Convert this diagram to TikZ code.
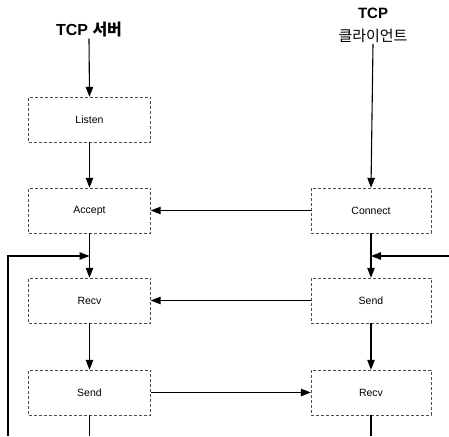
\documentclass[tikz,border=0pt]{standalone}
\usepackage{fontspec}
\setmainfont{Liberation Sans}
\newfontfamily\krfont{Noto Sans CJK KR}
\usetikzlibrary{arrows.meta}
\begin{document}
\begin{tikzpicture}[x=1pt,y=-1pt,
  box/.style={draw=black!70,densely dashed,line width=0.4pt,minimum width=122pt,minimum height=45pt,inner sep=0pt,font=\fontsize{10.5}{12}\selectfont},
  conn/.style={line width=1.1pt,-{Triangle[length=10pt,width=7.5pt]}},
  plain/.style={line width=1.1pt},
  ttl/.style={align=center,inner sep=1pt}]
\useasboundingbox (0,0) rectangle (449,436);
% titles
\node[ttl] (st) at (89,30) {\fontsize{16}{18}\selectfont\textbf{TCP} {\krfont\bfseries 서버}};
\node[ttl] (ctop) at (373,13) {\fontsize{15}{18}\selectfont\textbf{TCP}};
\node[ttl] (ct) at (373,36) {\fontsize{15}{18}\selectfont\krfont 클라이언트};
% server boxes
\node[box] (listen) at (89.5,119.5) {Listen};
\node[box] (accept) at (89.5,210.5) {Accept};
\node[box] (srecv) at (89.5,300.5) {Recv};
\node[box] (ssend) at (89.5,392.5) {Send};
% client boxes
\node[box,minimum width=120pt] (connect) at (371,210.5) {Connect};
\node[box,minimum width=120pt] (csend) at (371,300.5) {Send};
\node[box,minimum width=120pt] (crecv) at (371,392.5) {Recv};
% coordinates
\coordinate (sj) at (89.5,256);
\coordinate (cj) at (371,256);
\coordinate (sb) at (89.5,436);
\coordinate (cb) at (371,436);
\coordinate (lb) at (8,436);
\coordinate (lt) at (8,256);
\coordinate (rr) at (449,256);
% server vertical
\draw[conn] (st.south) -- (listen.north);
\draw[conn] (listen.south) -- (accept.north);
\draw[conn] (accept.south) -- (srecv.north);
\draw[conn] (srecv.south) -- (ssend.north);
\draw[plain] (ssend.south) -- (sb);
\draw[conn] (lb) -- (lt) -- (sj);
% client vertical
\draw[conn] (ct.south) -- (connect.north);
\draw[conn] (connect.south) -- (csend.north);
\draw[conn] (csend.south) -- (crecv.north);
\draw[plain] (crecv.south) -- (cb);
\draw[conn] (rr) -- (cj);
% horizontal
\draw[conn] (connect.west) -- (accept.east);
\draw[conn] (csend.west) -- (srecv.east);
\draw[conn] (ssend.east) -- (crecv.west);
\end{tikzpicture}
\end{document}
